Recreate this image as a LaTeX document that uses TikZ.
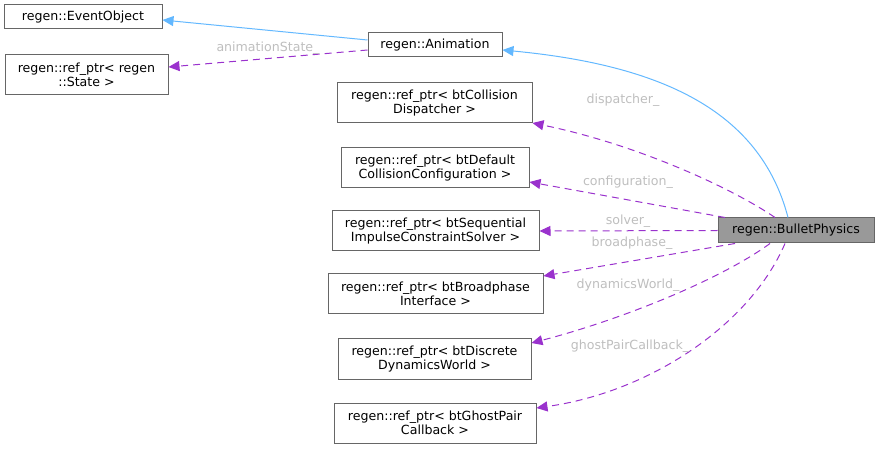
\documentclass[tikz,border=0pt]{standalone}
\usepackage{fontspec}
\setmainfont{DejaVu Sans}
\usetikzlibrary{arrows.meta,positioning,calc}
\definecolor{edge}{HTML}{666666}
\definecolor{inh}{HTML}{63B8FF}
\definecolor{mem}{HTML}{9A32CD}
\definecolor{lbl}{HTML}{BEBEBE}
\definecolor{cur}{HTML}{999999}
\tikzset{
  box/.style={draw=edge,line width=1pt,fill=white,align=center,inner sep=3pt,font=\fontsize{12.6}{14.5}\selectfont,minimum height=24pt},
  cbox/.style={box,fill=cur},
  inar/.style={-{Triangle[length=11pt,width=10pt]},draw=inh,line width=1pt},
  mar/.style={-{Triangle[length=11pt,width=10pt]},draw=mem,line width=1pt,dash pattern=on 7pt off 5pt},
  elab/.style={text=lbl,font=\fontsize{12.6}{14.5}\selectfont,inner sep=1pt},
}
\begin{document}
\begin{tikzpicture}[x=1pt,y=-1pt]
\useasboundingbox (0,0) rectangle (879,449);
% classes
\node[box,minimum width=158pt,minimum height=24pt] (evobj) at (83,17) {regen::EventObject};
\node[box,minimum width=163pt,minimum height=40pt] (state) at (86.5,75) {regen::ref\_ptr< regen\\::State >};
\node[box,minimum width=134pt,minimum height=24pt] (anim) at (435,45) {regen::Animation};
\node[box,minimum width=195pt,minimum height=40pt] (disp) at (434.5,103) {regen::ref\_ptr< btCollision\\Dispatcher >};
\node[box,minimum width=188pt,minimum height=40pt] (conf) at (435,168) {regen::ref\_ptr< btDefault\\CollisionConfiguration >};
\node[box,minimum width=207pt,minimum height=40pt] (solv) at (435.5,231) {regen::ref\_ptr< btSequential\\ImpulseConstraintSolver >};
\node[box,minimum width=215pt,minimum height=40pt] (broad) at (435.5,294) {regen::ref\_ptr< btBroadphase\\Interface >};
\node[box,minimum width=193pt,minimum height=40pt] (world) at (434.5,359) {regen::ref\_ptr< btDiscrete\\DynamicsWorld >};
\node[box,minimum width=202pt,minimum height=40pt] (ghost) at (435,423) {regen::ref\_ptr< btGhostPair\\Callback >};
\node[cbox,minimum width=156pt,minimum height=25pt] (bullet) at (796,230.5) {regen::BulletPhysics};
% inheritance
\draw[inar] (anim.west |- 0,40) -- (evobj.east |- 0,20);
\draw[inar] (bullet.north -| 788,0) .. controls (760,110) and (660,65) .. (anim.east |- 0,50);
% members
\draw[mar] (anim.west |- 0,50) -- (state.east |- 0,67);
\draw[mar] (bullet.north -| 775,0) .. controls (735,190) and (640,145) .. (disp.east |- 0,123);
\draw[mar] (bullet.north -| 725,0) -- (conf.east |- 0,182);
\draw[mar] (bullet.west) -- (solv.east);
\draw[mar] (bullet.south -| 735,0) -- (broad.east |- 0,276);
\draw[mar] (bullet.south -| 770,0) .. controls (720,280) and (620,320) .. (world.east |- 0,343);
\draw[mar] (bullet.south -| 785,0) .. controls (750,325) and (650,392) .. (ghost.east |- 0,408);
% member names
\node[elab] (l0) at (268,48) {animationState\_};
\node[elab] (l1) at (623,100) {dispatcher\_};
\node[elab] (l2) at (628,182) {configuration\_};
\node[elab] (l3) at (628,221) {solver\_};
\node[elab] (l4) at (632,243) {broadphase\_};
\node[elab] (l5) at (628,285) {dynamicsWorld\_};
\node[elab] (l6) at (630,346) {ghostPairCallback\_};
\end{tikzpicture}
\end{document}
